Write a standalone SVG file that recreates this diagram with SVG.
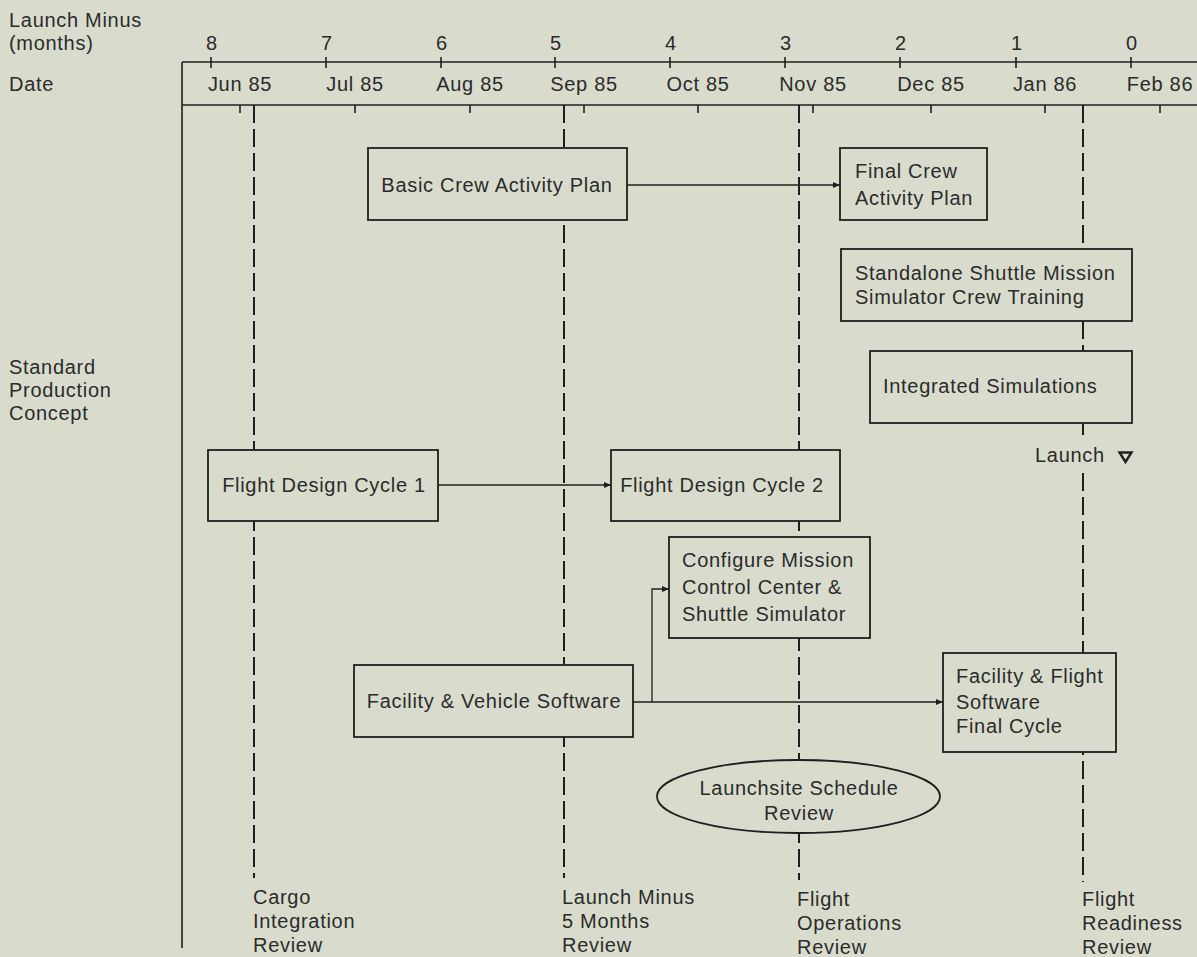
<svg xmlns="http://www.w3.org/2000/svg" width="1197" height="957" viewBox="0 0 1197 957">
<defs>
<style>
text{font-family:"Liberation Sans",Arial,Helvetica,sans-serif;font-size:20px;letter-spacing:0.7px;fill:#2b2b2b}
.m{text-anchor:middle}
.axis{stroke:#1f1f1f;stroke-width:1.6;fill:none}
.tick{stroke:#1f1f1f;stroke-width:1.6}
.dash{stroke:#1f1f1f;stroke-width:2;stroke-dasharray:18 6;fill:none}
.box{fill:#d9dccd;stroke:#1f1f1f;stroke-width:1.8}
.conn{stroke:#1f1f1f;stroke-width:1.3;fill:none}
</style>
<marker id="ah" markerUnits="userSpaceOnUse" markerWidth="8" markerHeight="6" refX="7" refY="3" orient="auto">
<path d="M0,0 L7,3 L0,6 z" fill="#1f1f1f"/>
</marker>
</defs>
<rect x="0" y="0" width="1197" height="957" fill="#d9dccd"/>

<g id="axis">
<text x="9" y="27">Launch Minus</text>
<text x="9" y="50">(months)</text>
<text x="9" y="91">Date</text>
<text x="9" y="374">Standard</text>
<text x="9" y="397">Production</text>
<text x="9" y="420">Concept</text>
<line class="axis" x1="182" y1="62" x2="1197" y2="62"/>
<line class="axis" x1="182" y1="105" x2="1197" y2="105"/>
<line class="axis" x1="182" y1="62" x2="182" y2="948"/>
<g class="tick">
<line x1="211" y1="57" x2="211" y2="68"/>
<line x1="326" y1="57" x2="326" y2="68"/>
<line x1="441" y1="57" x2="441" y2="68"/>
<line x1="555" y1="57" x2="555" y2="68"/>
<line x1="670" y1="57" x2="670" y2="68"/>
<line x1="785" y1="57" x2="785" y2="68"/>
<line x1="900" y1="57" x2="900" y2="68"/>
<line x1="1016" y1="57" x2="1016" y2="68"/>
<line x1="1131" y1="57" x2="1131" y2="68"/>
<line x1="240" y1="105" x2="240" y2="113"/>
<line x1="355" y1="105" x2="355" y2="113"/>
<line x1="470" y1="105" x2="470" y2="113"/>
<line x1="584" y1="105" x2="584" y2="113"/>
<line x1="698" y1="105" x2="698" y2="113"/>
<line x1="813" y1="105" x2="813" y2="113"/>
<line x1="931" y1="105" x2="931" y2="113"/>
<line x1="1045" y1="105" x2="1045" y2="113"/>
<line x1="1160" y1="105" x2="1160" y2="113"/>
</g>
<text class="m" x="212" y="50">8</text>
<text class="m" x="327" y="50">7</text>
<text class="m" x="442" y="50">6</text>
<text class="m" x="556" y="50">5</text>
<text class="m" x="671" y="50">4</text>
<text class="m" x="786" y="50">3</text>
<text class="m" x="901" y="50">2</text>
<text class="m" x="1017" y="50">1</text>
<text class="m" x="1132" y="50">0</text>
<text class="m" x="240" y="91">Jun 85</text>
<text class="m" x="355" y="91">Jul 85</text>
<text class="m" x="470" y="91">Aug 85</text>
<text class="m" x="584" y="91">Sep 85</text>
<text class="m" x="698" y="91">Oct 85</text>
<text class="m" x="813" y="91">Nov 85</text>
<text class="m" x="931" y="91">Dec 85</text>
<text class="m" x="1045" y="91">Jan 86</text>
<text class="m" x="1160" y="91">Feb 86</text>
</g>

<g id="milestones">
<line class="dash" x1="254" y1="105" x2="254" y2="878"/>
<line class="dash" x1="564" y1="105" x2="564" y2="878"/>
<line class="dash" x1="799" y1="105" x2="799" y2="880"/>
<line class="dash" x1="1083" y1="105" x2="1083" y2="437"/>
<line class="dash" x1="1083" y1="473" x2="1083" y2="882"/>
<text x="253" y="904">Cargo</text>
<text x="253" y="928">Integration</text>
<text x="253" y="952">Review</text>
<text x="562" y="904">Launch Minus</text>
<text x="562" y="928">5 Months</text>
<text x="562" y="952">Review</text>
<text x="797" y="906">Flight</text>
<text x="797" y="930">Operations</text>
<text x="797" y="954">Review</text>
<text x="1082" y="906">Flight</text>
<text x="1082" y="930">Readiness</text>
<text x="1082" y="954">Review</text>
</g>

<g id="launch">
<text x="1035" y="462">Launch</text>
<polygon points="1119.5,452.5 1131.5,452.5 1125.5,462" fill="none" stroke="#1f1f1f" stroke-width="2.4" stroke-linejoin="miter"/>
</g>

<g id="connectors">
<line class="conn" x1="627" y1="185" x2="840" y2="185" marker-end="url(#ah)"/>
<line class="conn" x1="438" y1="485" x2="611" y2="485" marker-end="url(#ah)"/>
<line class="conn" x1="633" y1="702" x2="943" y2="702" marker-end="url(#ah)"/>
<polyline class="conn" points="652,702 652,589 669,589" marker-end="url(#ah)"/>
</g>

<g id="basic-crew-activity-plan">
<rect class="box" x="368" y="148" width="259" height="72"/>
<text class="m" x="497" y="192">Basic Crew Activity Plan</text>
</g>
<g id="final-crew-activity-plan">
<rect class="box" x="840" y="148" width="147" height="72"/>
<text x="855" y="178">Final Crew</text>
<text x="855" y="205">Activity Plan</text>
</g>
<g id="standalone-sms-training">
<rect class="box" x="841" y="249" width="291" height="72"/>
<text x="855" y="280">Standalone Shuttle Mission</text>
<text x="855" y="304">Simulator Crew Training</text>
</g>
<g id="integrated-simulations">
<rect class="box" x="870" y="351" width="262" height="72"/>
<text x="883" y="393">Integrated Simulations</text>
</g>
<g id="flight-design-cycle-1">
<rect class="box" x="208" y="450" width="230" height="71"/>
<text class="m" x="324" y="492">Flight Design Cycle 1</text>
</g>
<g id="flight-design-cycle-2">
<rect class="box" x="611" y="450" width="229" height="71"/>
<text class="m" x="722" y="492">Flight Design Cycle 2</text>
</g>
<g id="configure-mcc">
<rect class="box" x="669" y="537" width="201" height="101"/>
<text x="682" y="567">Configure Mission</text>
<text x="682" y="594">Control Center &amp;</text>
<text x="682" y="621">Shuttle Simulator</text>
</g>
<g id="facility-vehicle-software">
<rect class="box" x="354" y="665" width="279" height="72"/>
<text class="m" x="494" y="708">Facility &amp; Vehicle Software</text>
</g>
<g id="facility-flight-software">
<rect class="box" x="943" y="653" width="173" height="99"/>
<text x="956" y="683">Facility &amp; Flight</text>
<text x="956" y="709">Software</text>
<text x="956" y="733">Final Cycle</text>
</g>
<g id="launchsite-schedule-review">
<ellipse class="box" cx="798.5" cy="796.5" rx="141.5" ry="36.5"/>
<text class="m" x="799" y="795">Launchsite Schedule</text>
<text class="m" x="799" y="820">Review</text>
</g>
</svg>
